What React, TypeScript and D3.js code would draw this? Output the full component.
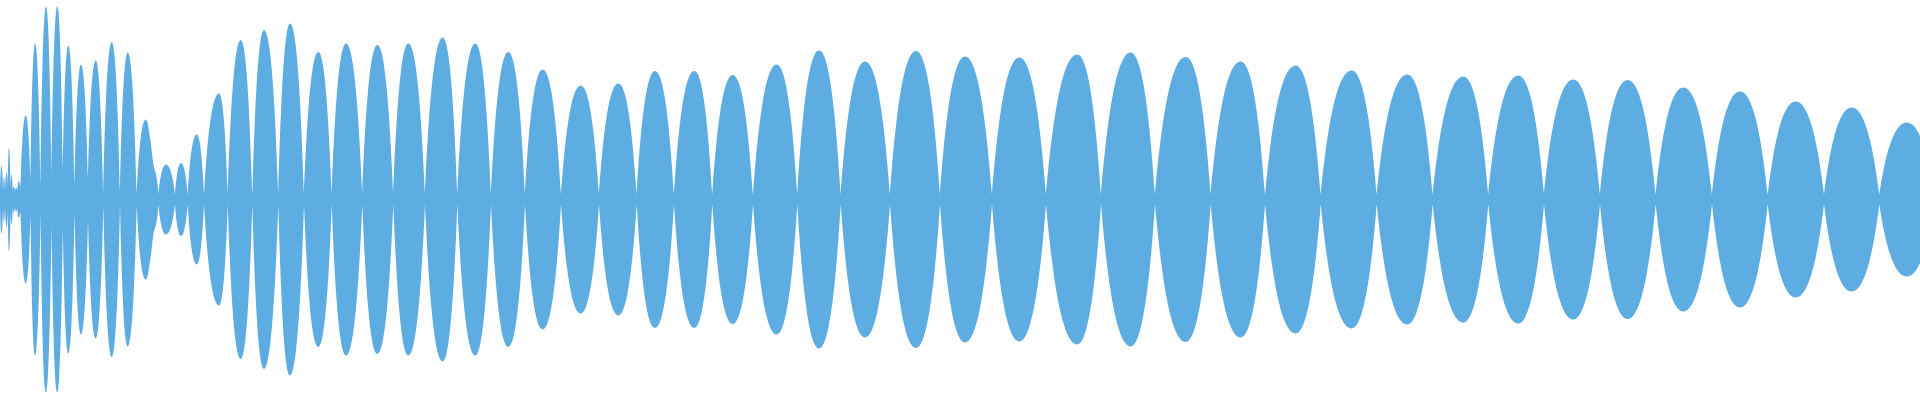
import React from "react";
import * as d3 from "d3";

const WIDTH = 1920;
const HEIGHT = 400;
const FILL = "#5DADE2";

// time positions (sample offset) of envelope turning points: troughs and peaks
const times = [
  0, 1.5, 3, 4, 5, 6.7, 7.8, 9, 10.5, 11.5, 12.7, 13.7, 15, 16.2, 17.3, 18.5, 20.5,
  25.7, 30.5, 35, 40.5, 46, 51.5, 57.3, 62.8, 68.3, 74.5, 81, 88, 95.7, 103.3, 111.7, 120, 127.7, 136.7,
  145.7, 150, 153.4, 156.6, 158.3, 166, 175, 181, 187.7, 196.7, 204,
  219, 227.7, 240.7, 252.3, 264, 278.3, 290, 304, 318.3, 331.7,
  346, 362.3, 377.3, 393.3, 408.3, 425, 442.7, 457.3, 475.3, 491, 508.3, 525,
  542.7, 561, 580.7, 599, 618.3, 636.7, 655, 674, 694.3, 712.3, 732.7, 753,
  776.7, 797.3, 819, 840.7, 865, 890, 916, 940, 965, 992,
  1019.3, 1046, 1077.3, 1101, 1130.7, 1155, 1185.7, 1210.7, 1240.7, 1265, 1295.7, 1320.7,
  1351.7, 1376.7, 1407.3, 1432.7, 1463.3, 1488.3, 1518.3, 1544, 1573.3, 1600, 1627.7, 1655.7,
  1683.3, 1712, 1740, 1767.7, 1795.7, 1824, 1851.7, 1879.3, 1906.7, 1934,
];

// amplitude of the waveform envelope at each of those points
const amps = [
  6, 34, 8, 22, 8, 27, 10, 52, 12, 25, 8, 13, 8, 12, 8, 18, 12,
  84, 15, 156, 15, 193, 26, 193, 28, 154, 13, 135, 20, 139, 6, 157.5, 6, 147, 6,
  80, 62, 35, 22, 5, 35, 5, 36.5, 5, 65, 5,
  106, 5, 159.5, 5, 169.5, 5, 176, 5, 147.5, 5,
  156, 5, 154.5, 5, 156, 5, 162, 5, 156, 5, 147.5, 5,
  130, 5, 114, 5, 116, 5, 128.5, 5, 128.5, 5, 124.5, 5,
  135, 5, 149, 5, 138, 5, 148.5, 5, 143, 5,
  142, 5, 145, 5, 147, 5, 142.5, 5, 138, 5, 134, 5,
  129, 5, 125, 5, 123, 5, 124, 5, 120, 5, 119.5, 5,
  112, 5, 108, 5, 98, 5, 92, 5, 77, 5,
];

type Pt = { t: number; a: number };

// custom d3 curve: steep tangent at the lobe ends (troughs), flat at peaks
const E = 0.2;
const K = 0.5;
const M = 0.5;
function lobeCurve(context: any) {
  let xs: number[] = [];
  let ys: number[] = [];
  let line = NaN;
  const isExtreme = (j: number) =>
    (ys[j] - ys[j - 1]) * (ys[j] - ys[j + 1]) >= 0;
  return {
    areaStart() {
      line = 0;
    },
    areaEnd() {
      line = NaN;
    },
    lineStart() {
      xs = [];
      ys = [];
    },
    point(x: number, y: number) {
      xs.push(+x);
      ys.push(+y);
    },
    lineEnd() {
      const n = xs.length;
      if (n) {
        if (line) context.lineTo(xs[0], ys[0]);
        else context.moveTo(xs[0], ys[0]);
        for (let i = 1; i < n; i++) {
          const x0 = xs[i - 1], y0 = ys[i - 1], x1 = xs[i], y1 = ys[i];
          const dx = x1 - x0;
          let c1x: number, c1y: number, c2x: number, c2y: number;
          if (i - 1 === 0) {
            c1x = x0 + E * dx;
            c1y = y0 + K * (y1 - y0);
          } else if (isExtreme(i - 1)) {
            c1x = x0 + M * dx;
            c1y = y0;
          } else {
            const s = (ys[i] - ys[i - 2]) / (xs[i] - xs[i - 2]);
            c1x = x0 + dx / 3;
            c1y = y0 + (s * dx) / 3;
          }
          if (i === n - 1) {
            c2x = x1 - E * dx;
            c2y = y1 + K * (y0 - y1);
          } else if (isExtreme(i)) {
            c2x = x1 - M * dx;
            c2y = y1;
          } else {
            const s = (ys[i + 1] - ys[i - 1]) / (xs[i + 1] - xs[i - 1]);
            c2x = x1 - dx / 3;
            c2y = y1 - (s * dx) / 3;
          }
          context.bezierCurveTo(c1x, c1y, c2x, c2y, x1, y1);
        }
      }
      if (line || (line !== 0 && n === 1)) context.closePath();
      line = 1 - line;
    },
  };
}

export default function App() {
  const x = d3.scaleLinear().domain([0, 1920]).range([0, WIDTH]);
  const y = d3.scaleLinear().domain([-200, 200]).range([399.5, -0.5]);

  const pts: Pt[] = times.map((t, i) => ({ t, a: amps[i] }));
  const mins: number[] = [];
  for (let i = 0; i < pts.length; i++) {
    const prev = i > 0 ? pts[i - 1].a : Infinity;
    const next = i < pts.length - 1 ? pts[i + 1].a : Infinity;
    if (pts[i].a <= prev && pts[i].a <= next) mins.push(i);
  }

  const area = d3
    .area<Pt>()
    .x((d) => x(d.t))
    .y0((d) => y(-d.a))
    .y1((d) => y(d.a))
    .curve(lobeCurve as any);

  let d = "";
  for (let k = 0; k < mins.length - 1; k++) {
    d += area(pts.slice(mins[k], mins[k + 1] + 1)) || "";
  }

  return (
    <svg
      width={WIDTH}
      height={HEIGHT}
      style={{ position: "absolute", left: 0, top: 0, display: "block" }}
    >
      <path d={d} fill={FILL} stroke="none" />
    </svg>
  );
}
